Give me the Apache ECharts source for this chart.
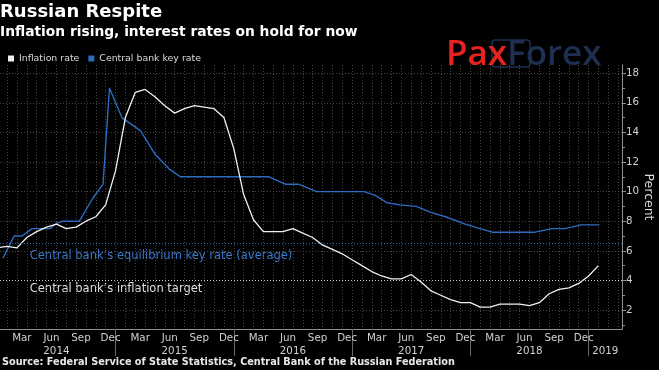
<!DOCTYPE html>
<html><head><meta charset="utf-8">
<script src="https://cdn.jsdelivr.net/npm/echarts@6/dist/echarts.min.js"></script>
<style>html,body{margin:0;padding:0;background:#000;}#c{width:659px;height:370px;}</style>
</head><body><div id="c"></div>
<script>
// ---- data ----
const inflationStart = [2013, 12];
const inflationValues = [6.2,
  6.3, 6.2, 6.9, 7.3, 7.6, 7.8, 7.5, 7.6, 8.0, 8.3, 9.1, 11.4,
  15.0, 16.7, 16.9, 16.4, 15.8, 15.3, 15.6, 15.8, 15.7, 15.6, 15.0, 12.9,
  9.8, 8.1, 7.3, 7.3, 7.3, 7.5, 7.2, 6.9, 6.4, 6.1, 5.8, 5.4,
  5.0, 4.6, 4.3, 4.1, 4.1, 4.4, 3.9, 3.3, 3.0, 2.7, 2.5, 2.5,
  2.2, 2.2, 2.4, 2.4, 2.4, 2.3, 2.5, 3.1, 3.4, 3.5, 3.8, 4.3,
  5.0];
const keyRateDates = ['2014-01-19','2014-02-21','2014-03-17','2014-04-17','2014-06-11','2014-07-01','2014-07-22',
  '2014-09-11','2014-10-21','2014-11-23','2014-12-13','2015-01-21','2015-03-18','2015-05-02','2015-06-16',
  '2015-07-19','2016-04-18','2016-06-08','2016-07-18','2016-09-13','2017-02-07','2017-03-12','2017-04-17',
  '2017-05-27','2017-07-17','2017-09-01','2017-10-16','2017-12-16','2018-02-01','2018-03-10','2018-07-15',
  '2018-09-10','2018-10-19','2018-12-09','2019-02-04'];
const keyRateValues = [5.5, 7.0, 7.0, 7.5, 7.5, 7.85, 8.0, 8.0, 9.5, 10.5, 17.0, 15.0, 14.1, 12.5, 11.5,
  11.0, 11.0, 10.5, 10.5, 10.0, 10.0, 9.75, 9.25, 9.1, 9.0, 8.6, 8.3, 7.8, 7.5, 7.25, 7.25,
  7.5, 7.5, 7.75, 7.75];
const inflationTarget = 4;
const equilibriumRate = 6.5;
const monthNames = ['Jan','Feb','Mar','Apr','May','Jun','Jul','Aug','Sep','Oct','Nov','Dec'];
const labelledMonths = ['Mar','Jun','Sep','Dec'];
const yearLabels = ['2014','2015','2016','2017','2018','2019'];
const yTickLabels = [2, 4, 6, 8, 10, 12, 14, 16, 18];
const yMinorTicks = [1, 3, 5, 7, 9, 11, 13, 15, 17];

// ---- helpers: months since 1 Jan 2014 ----
function monthEndK(y, m) { return (y - 2014) * 12 + m; }
function dateK(s) {
  const [y, m, d] = s.split('-').map(Number);
  const dim = new Date(y, m, 0).getDate();
  return (y - 2014) * 12 + (m - 1) + (d - 1) / dim;
}
const inflationData = inflationValues.map((v, i) => {
  const total = inflationStart[0] * 12 + (inflationStart[1] - 1) + i;
  const y = Math.floor(total / 12), m = total % 12 + 1;
  return [monthEndK(y, m), v];
});
const keyRateData = keyRateDates.map((d, i) => [dateK(d), keyRateValues[i]]);

const XMIN = 0.28, XMAX = 63.39;
const monthStarts = [];
for (let k = 1; k <= 63; k++) monthStarts.push(k);
const monthLabelValues = [];
for (let y = 0; y < 5; y++) labelledMonths.forEach(n => monthLabelValues.push(y * 12 + monthNames.indexOf(n) + 0.5));
const yearBounds = [12, 24, 36, 48, 60];
const yearLabelValues = yearLabels.map((s, i) => i < 5 ? i * 12 + 6 : (60 + XMAX) / 2);

const GRID = '#474747';
const AXIS = '#8f8f8f';
const BLUE = '#2d6cc0';
const WHITE = '#f0f0f0';

const chart = echarts.init(document.getElementById('c'), null, {renderer: 'canvas'});
chart.setOption({
  backgroundColor: '#000',
  animation: false,
  textStyle: {fontFamily: 'DejaVu Sans'},
  grid: {left: 0, right: 37, top: 65, bottom: 41, containLabel: false, outerBoundsMode: 'none'},
  legend: {
    left: 3, top: 49, icon: 'rect', itemWidth: 6, itemHeight: 6, itemGap: 9,
    textStyle: {color: '#dcdcdc', fontSize: 9.4, fontFamily: 'DejaVu Sans'},
    data: ['Inflation rate', 'Central bank key rate']
  },
  xAxis: [{
    type: 'value', min: XMIN, max: XMAX,
    axisLine: {show: true, lineStyle: {color: AXIS, width: 1}},
    axisTick: {show: false, customValues: monthStarts},
    splitLine: {show: true, lineStyle: {color: GRID, type: [1, 2], width: 1}},
    axisLabel: {customValues: monthLabelValues, color: '#d0d0d0', fontSize: 10.3, margin: 4,
      formatter: v => monthNames[Math.floor(v + 1e-6) % 12]}
  }, {
    type: 'value', min: XMIN, max: XMAX, position: 'bottom',
    axisLine: {show: false},
    axisTick: {show: true, customValues: yearBounds, length: 27, lineStyle: {color: '#6a6a6a', width: 1}},
    splitLine: {show: false},
    axisLabel: {customValues: yearLabelValues, color: '#d0d0d0', fontSize: 10.3, margin: 17,
      formatter: v => yearLabels[Math.floor(v / 12)]}
  }],
  yAxis: [{
    type: 'value', position: 'right', min: 0.72, max: 18.55,
    name: 'Percent', nameLocation: 'middle', nameRotate: -90, nameGap: 20, nameMoveOverlap: false,
    nameTextStyle: {color: '#dcdcdc', fontSize: 12.5, fontFamily: 'DejaVu Sans'},
    axisLine: {show: true, lineStyle: {color: AXIS, width: 1}},
    axisTick: {show: true, customValues: yTickLabels, length: 4, lineStyle: {color: AXIS}},
    axisLabel: {customValues: yTickLabels, color: '#d0d0d0', fontSize: 10.3, margin: 4},
    splitLine: {show: true, lineStyle: {color: GRID, type: [1, 2], width: 1}}
  }, {
    type: 'value', position: 'right', min: 0.72, max: 18.55,
    axisLine: {show: false},
    axisTick: {show: true, customValues: yMinorTicks, length: 3, lineStyle: {color: AXIS}},
    axisLabel: {show: false},
    splitLine: {show: false}
  }],
  series: [{
    name: 'Central bank key rate', type: 'line', data: keyRateData, symbol: 'none',
    lineStyle: {color: BLUE, width: 1.4}, itemStyle: {color: BLUE}, z: 3,
    markLine: {
      silent: true, symbol: 'none', label: {show: false}, animation: false,
      data: [
        {yAxis: equilibriumRate, lineStyle: {color: BLUE, type: [1, 2], width: 1}},
        {yAxis: inflationTarget, lineStyle: {color: '#cfcfcf', type: [1, 2], width: 1}}
      ]
    }
  }, {
    name: 'Inflation rate', type: 'line', data: inflationData, symbol: 'none',
    lineStyle: {color: WHITE, width: 1.3}, itemStyle: {color: WHITE}, z: 4
  }],
  graphic: [
    {type: 'text', id: 't1', left: 0, top: 3, style: {text: 'Russian Respite', fill: '#ffffff', font: 'bold 18px "DejaVu Sans"'}},
    {type: 'text', id: 't2', left: 0, top: 25, style: {text: 'Inflation rising, interest rates on hold for now', fill: '#ffffff', font: 'bold 13.8px "DejaVu Sans"'}},
    {type: 'text', id: 'src', left: 2, top: 357, style: {text: 'Source: Federal Service of State Statistics, Central Bank of the Russian Federation', fill: '#e8e8e8', font: 'bold 9.7px "DejaVu Sans"'}},
    {type: 'rect', id: 'logobox', shape: {x: 492, y: 40, width: 38, height: 27, r: 3}, style: {fill: 'none', stroke: '#1e2f52', lineWidth: 1.5}, z: 10},
    {type: 'text', id: 'logo1', left: 446, top: 38, z: 11, style: {text: 'Pax', fill: '#e8231f', font: '600 35px "Open Sans"'}},
    {type: 'text', id: 'logo2', left: 507, top: 38, z: 11, style: {text: 'Forex', fill: '#1e2f52', font: '600 35px "Open Sans"'}}
  ]
});

const yEq = chart.convertToPixel({yAxisIndex: 0}, equilibriumRate);
const yTg = chart.convertToPixel({yAxisIndex: 0}, inflationTarget);
const xTxt = chart.convertToPixel({xAxisIndex: 0}, 3.3);
chart.setOption({graphic: [
  {type: 'text', id: 'a1', x: xTxt, y: yEq + 12.6, style: {text: "Central bank\u2019s equilibrium key rate (average)", fill: '#3a78cc', font: '11.5px "DejaVu Sans"', textVerticalAlign: 'middle'}},
  {type: 'text', id: 'a2', x: xTxt, y: yTg + 8.8, style: {text: "Central bank\u2019s inflation target", fill: '#dedede', font: '11.5px "DejaVu Sans"', textVerticalAlign: 'middle'}}
]});
</script></body></html>
